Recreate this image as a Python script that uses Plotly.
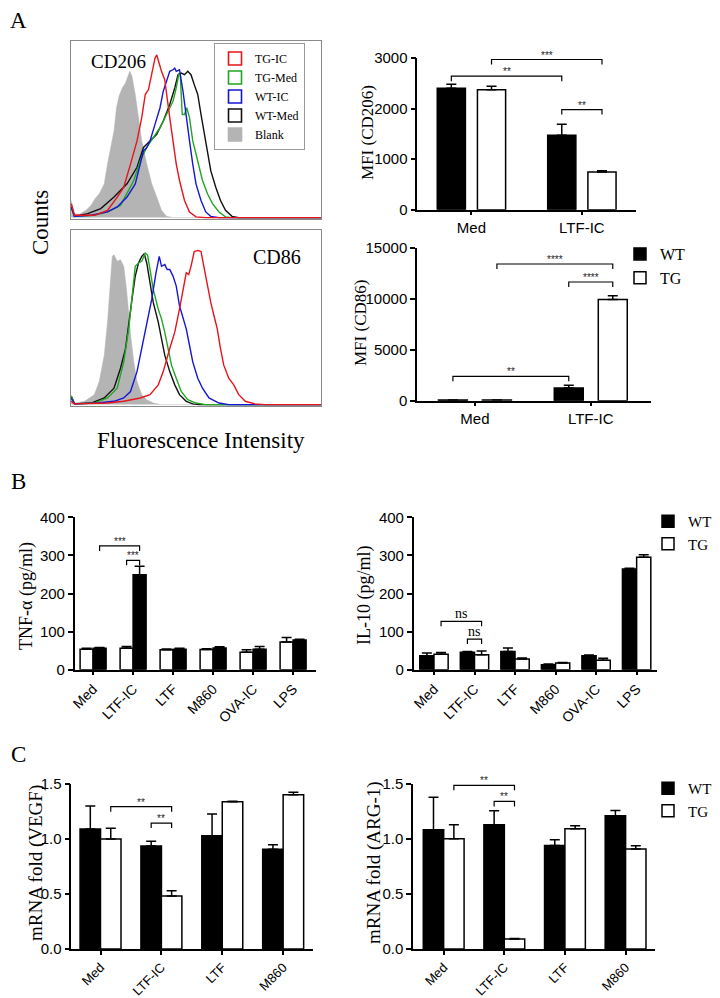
import plotly.graph_objects as go

W, H = 720, 998
SERIF = "Liberation Serif"
SANS = "Liberation Sans"

# ---------------- Flow histograms (x: relative fluorescence 0-100, y: % of max counts) -------------
cd206_blank_x = [0.1, 1.4, 3.4, 6.0, 8.0, 9.6, 11.3, 13.3, 14.6, 15.9, 17.2, 18.2, 19.2, 20.5, 21.8, 23.5, 24.4, 25.7, 27.0, 28.3, 30.3, 32.3, 34.3, 36.2, 38.2, 40.8, 100]
cd206_blank_y = [9.7, 2.2, 1.9, 4.1, 6.9, 10.7, 13.5, 19.1, 30.3, 39.7, 49.1, 62.2, 68.7, 73.4, 76.2, 82.8, 80.0, 69.7, 56.6, 43.4, 30.3, 19.1, 11.6, 4.1, 0.7, 0, 0]
cd206_tgic_x = [0.1, 1.4, 9.3, 14.6, 18.5, 21.1, 23.8, 26.4, 28.3, 29.7, 31.0, 32.3, 33.6, 34.3, 35.3, 36.2, 37.5, 38.5, 39.5, 40.8, 42.1, 43.4, 45.4, 47.4, 50.0, 53.9, 100]
cd206_tgic_y = [7.9, 1.3, 1.3, 4.1, 11.6, 17.2, 30.3, 43.4, 56.6, 69.7, 72.5, 80.9, 90.3, 92.1, 86.5, 82.8, 78.1, 65.9, 56.6, 43.4, 30.3, 21.0, 9.7, 3.2, 0.4, 0, 0]
cd206_wtic_x = [0.1, 1.4, 8.0, 14.6, 18.5, 22.4, 25.7, 27.7, 29.0, 30.3, 31.6, 33.6, 35.6, 36.9, 38.2, 39.5, 40.8, 41.5, 42.1, 43.4, 44.8, 46.1, 47.4, 48.7, 50.0, 52.0, 53.9, 55.9, 59.2, 100]
cd206_wtic_y = [6.0, 0.7, 1.3, 3.2, 6.0, 11.6, 19.1, 30.3, 37.8, 39.7, 43.4, 52.8, 62.2, 71.5, 77.2, 82.8, 83.7, 84.6, 82.8, 83.7, 71.5, 56.6, 43.4, 30.3, 19.1, 9.7, 3.2, 0.7, 0, 0]
cd206_tgmed_x = [0.1, 1.4, 9.3, 14.6, 19.8, 22.4, 25.1, 27.7, 30.3, 32.9, 35.6, 38.2, 40.8, 42.1, 43.2, 43.7, 44.5, 45.4, 46.3, 47.4, 48.7, 50.0, 51.3, 52.6, 54.6, 56.6, 59.2, 61.8, 64.4, 100]
cd206_tgmed_y = [6.0, 0.7, 1.3, 3.2, 6.9, 13.5, 21.0, 32.2, 39.7, 45.3, 50.9, 58.4, 65.9, 73.4, 81.8, 80.9, 58.4, 58.4, 62.2, 56.6, 43.4, 36.0, 28.5, 21.0, 13.5, 7.9, 3.2, 0.4, 0, 0]
cd206_wtmed_x = [0.1, 1.4, 6.7, 11.9, 17.2, 22.4, 26.4, 29.0, 31.6, 34.3, 36.9, 39.5, 41.5, 42.8, 44.1, 45.4, 46.7, 48.0, 49.3, 50.7, 52.0, 53.3, 54.6, 55.9, 57.9, 59.8, 61.8, 64.4, 67.1, 100]
cd206_wtmed_y = [6.0, 0.7, 2.2, 5.1, 11.6, 19.1, 28.5, 39.7, 43.4, 47.2, 54.7, 64.0, 73.4, 80.9, 81.8, 80.9, 82.8, 80.9, 75.3, 69.7, 58.4, 47.2, 36.0, 26.6, 17.2, 9.7, 4.1, 0.7, 0, 0]

cd86_blank_x = [0.1, 1.4, 5.4, 9.3, 11.3, 13.3, 14.6, 15.6, 16.5, 17.2, 18.5, 19.8, 21.1, 22.2, 23.1, 24.0, 25.1, 26.4, 28.3, 30.3, 32.9, 35.6, 100]
cd86_blank_y = [5.7, 0.9, 1.9, 5.7, 13.2, 28.3, 47.2, 66.0, 84.9, 85.8, 82.1, 83.0, 79.2, 66.0, 50.9, 37.7, 24.5, 13.2, 5.7, 2.8, 0.9, 0, 0]
cd86_wtmed_x = [0.1, 1.4, 8.0, 13.3, 17.2, 19.8, 21.8, 23.1, 24.4, 25.7, 27.0, 28.3, 29.3, 30.3, 31.6, 32.9, 34.9, 36.2, 37.5, 39.5, 41.5, 43.4, 46.1, 48.7, 51.3, 100]
cd86_wtmed_y = [4.7, 0.4, 0.9, 3.8, 9.4, 20.8, 32.1, 47.2, 60.4, 73.6, 81.1, 84.9, 86.4, 81.1, 69.8, 58.5, 47.2, 37.7, 28.3, 18.9, 11.3, 5.7, 1.9, 0.4, 0, 0]
cd86_tgmed_x = [0.1, 1.4, 9.3, 14.6, 18.5, 21.1, 23.1, 24.4, 25.7, 27.0, 28.3, 29.7, 30.6, 31.6, 32.9, 34.9, 36.2, 37.5, 38.8, 40.2, 42.1, 44.1, 46.7, 50.0, 53.9, 100]
cd86_tgmed_y = [4.7, 0.4, 0.9, 3.8, 9.4, 24.5, 43.4, 60.4, 79.2, 81.1, 82.1, 86.8, 85.8, 77.4, 66.0, 54.7, 49.1, 41.5, 32.1, 22.6, 15.1, 7.5, 2.8, 0.9, 0, 0]
cd86_wtic_x = [0.1, 1.4, 10.6, 17.2, 21.1, 23.8, 26.4, 28.3, 30.3, 32.3, 34.0, 35.3, 36.2, 37.5, 38.5, 39.5, 40.8, 42.1, 43.4, 44.8, 46.1, 47.4, 48.7, 50.7, 52.6, 55.2, 59.2, 63.1, 100]
cd86_wtic_y = [3.8, 0.4, 0.9, 1.9, 3.8, 7.5, 18.9, 32.1, 47.2, 60.4, 75.5, 84.9, 79.2, 80.2, 77.4, 77.4, 73.6, 67.9, 56.6, 49.1, 43.4, 34.0, 24.5, 15.1, 9.4, 3.8, 0.9, 0, 0]
cd86_tgic_x = [0.1, 1.4, 14.6, 21.1, 27.7, 31.6, 34.9, 36.9, 39.5, 41.5, 43.4, 44.8, 46.1, 47.1, 48.0, 49.3, 50.7, 52.0, 53.3, 54.6, 55.9, 57.2, 58.5, 59.8, 61.1, 63.1, 65.1, 67.1, 69.7, 73.6, 77.6, 100]
cd86_tgic_y = [1.9, 0.4, 0.9, 1.9, 3.8, 5.7, 11.3, 18.9, 32.1, 41.5, 54.7, 66.0, 75.5, 74.5, 79.2, 87.7, 88.3, 87.7, 77.4, 67.9, 58.5, 50.9, 43.4, 32.1, 22.6, 15.1, 11.3, 5.7, 1.9, 0.4, 0, 0]

hist_legend_names = ["TG-IC", "TG-Med", "WT-IC", "WT-Med", "Blank"]

# ---------------- Bar data ----------------
mfi_groups = ["Med", "LTF-IC"]
cd206_wt = [2400, 1470]
cd206_wt_err = [80, 220]
cd206_tg = [2370, 745]
cd206_tg_err = [70, 25]
cd86_wt = [60, 1250]
cd86_wt_err = [20, 260]
cd86_tg = [60, 9950]
cd86_tg_err = [20, 370]

cyto_groups = ["Med", "LTF-IC", "LTF", "M860", "OVA-IC", "LPS"]
tnf_wt = [56, 249.5, 54, 57, 54, 78]
tnf_wt_err = [2, 22, 2, 3, 7, 2]
tnf_tg = [54, 56, 52.5, 53, 45.5, 72.6]
tnf_tg_err = [2, 5, 2, 2, 7, 12]
il10_wt = [36.8, 45.5, 48, 13, 36.8, 264]
il10_wt_err = [7, 2.5, 9, 2, 1.5, 2]
il10_tg = [40.3, 39.4, 28, 17.5, 24.5, 295]
il10_tg_err = [5, 10, 2.6, 1.5, 5.5, 7]

mrna_groups = ["Med", "LTF-IC", "LTF", "M860"]
vegf_wt = [1.09, 0.936, 1.03, 0.906]
vegf_wt_err = [0.21, 0.043, 0.197, 0.042]
vegf_tg = [1.0, 0.482, 1.339, 1.403]
vegf_tg_err = [0.097, 0.048, 0.005, 0.021]
arg_wt = [1.085, 1.13, 0.942, 1.212]
arg_wt_err = [0.294, 0.127, 0.052, 0.048]
arg_tg = [1.003, 0.091, 1.094, 0.909]
arg_tg_err = [0.127, 0.005, 0.027, 0.03]

# significance brackets: (group_a, series_a, group_b, series_b, bracket_value, label)
cd206_sig = [(0, "wt", 1, "wt", 2640, "**"), (0, "tg", 1, "tg", 2970, "***"), (1, "wt", 1, "tg", 1980, "**")]
cd86_sig = [(0, "wt", 1, "wt", 2390, "**"), (0, "tg", 1, "tg", 13430, "****"), (1, "wt", 1, "tg", 11660, "****")]
tnf_sig = [(0, "wt", 1, "wt", 325, "***"), (1, "tg", 1, "wt", 287, "***")]
il10_sig = [(0, "tg", 1, "tg", 127, "ns"), (1, "wt", 1, "tg", 80.5, "ns")]
vegf_sig = [(0, "tg", 1, "tg", 1.294, "**"), (1, "wt", 1, "tg", 1.145, "**")]
arg_sig = [(0, "tg", 1, "tg", 1.488, "**"), (1, "wt", 1, "tg", 1.342, "**")]

# ---------------- helpers ----------------
fig = go.Figure()


def pxx(v):
    return v / W


def pxy(v):
    return 1 - v / H


def xdom(a, b):
    return [a / W, b / W]


def ydom(top, bottom):
    return [1 - bottom / H, 1 - top / H]


HIST_COLORS = {"TG-IC": "#e8141b", "TG-Med": "#22a622", "WT-IC": "#1616d6",
               "WT-Med": "#111111", "Blank": "#b4b4b4"}


def add_hist(xa, ya, curves):
    for name, xs, ys in curves:
        c = HIST_COLORS[name]
        if name == "Blank":
            fig.add_trace(go.Scatter(x=xs, y=ys, mode="lines", fill="tozeroy", fillcolor=c,
                                     line=dict(color=c, width=0.5), xaxis=xa, yaxis=ya,
                                     showlegend=False, hoverinfo="skip"))
        else:
            fig.add_trace(go.Scatter(x=xs, y=ys, mode="lines", line=dict(color=c, width=1.4),
                                     xaxis=xa, yaxis=ya, showlegend=False, hoverinfo="skip"))


add_hist("x", "y", [("Blank", cd206_blank_x, cd206_blank_y),
                    ("WT-Med", cd206_wtmed_x, cd206_wtmed_y),
                    ("TG-Med", cd206_tgmed_x, cd206_tgmed_y),
                    ("WT-IC", cd206_wtic_x, cd206_wtic_y),
                    ("TG-IC", cd206_tgic_x, cd206_tgic_y)])
add_hist("x2", "y2", [("Blank", cd86_blank_x, cd86_blank_y),
                      ("WT-Med", cd86_wtmed_x, cd86_wtmed_y),
                      ("TG-Med", cd86_tgmed_x, cd86_tgmed_y),
                      ("WT-IC", cd86_wtic_x, cd86_wtic_y),
                      ("TG-IC", cd86_tgic_x, cd86_tgic_y)])

for name in hist_legend_names:
    c = HIST_COLORS[name]
    sym = "square" if name == "Blank" else "square-open"
    fig.add_trace(go.Scatter(x=[None], y=[None], mode="markers", name=name,
                             marker=dict(symbol=sym, size=13, color=c, line=dict(color=c, width=1.6)),
                             xaxis="x", yaxis="y", legend="legend", hoverinfo="skip"))


def add_bars(xa, ya, groups, series, legend_name):
    for name, vals, errs, fill, center, width in series:
        fig.add_trace(go.Bar(
            x=[i + center for i in range(len(groups))], y=vals, width=width, name=name,
            marker=dict(color=fill, line=dict(color="black", width=1.5)),
            error_y=dict(type="data", symmetric=False, array=errs, arrayminus=[0] * len(errs),
                         color="black", thickness=1.5, width=5),
            xaxis=xa, yaxis=ya, showlegend=legend_name is not None,
            legend=legend_name if legend_name else "legend", hoverinfo="skip"))


def add_brackets(xa, ya, sigs, centers, drop, font, yshift):
    for ga, sa, gb, sb, yv, label in sigs:
        x1 = ga + centers[sa]
        x2 = gb + centers[sb]
        fig.add_shape(type="path", path=f"M {x1},{yv - drop} L {x1},{yv} L {x2},{yv} L {x2},{yv - drop}",
                      xref=xa, yref=ya, line=dict(color="black", width=1.2))
        fig.add_annotation(x=(x1 + x2) / 2, y=yv, xref=xa, yref=ya, text=label, showarrow=False,
                           yanchor="bottom", font=font, yshift=yshift)


STAR = dict(family=SANS, size=10, color="#222")
NS = dict(family=SERIF, size=14, color="black")

# panel geometry (pixels)
P = {
    "cd206": dict(x=(409.3, 628), y=(50, 201.7), xr=[-0.49, 1.49], yr=[0, 3000]),
    "cd86": dict(x=(409, 643), y=(240, 392.7), xr=[-0.5, 1.52], yr=[0, 15000]),
    "tnf": dict(x=(66.7, 308.3), y=(509.3, 661.7), xr=[-0.46, 5.58], yr=[0, 400]),
    "il10": dict(x=(405.7, 649.3), y=(509.3, 661.7), xr=[-0.5, 5.51], yr=[0, 400]),
    "vegf": dict(x=(63.3, 305), y=(776, 941), xr=[-0.48, 3.49], yr=[0, 1.5]),
    "arg": dict(x=(405, 647.3), y=(776, 941), xr=[-0.506, 3.49], yr=[0, 1.5]),
}


def drop_for(key, pixels=5):
    g = P[key]
    return pixels * (g["yr"][1] - g["yr"][0]) / (g["y"][1] - g["y"][0])


c_cd206 = {"wt": -0.182, "tg": 0.182}
add_bars("x3", "y3", mfi_groups, [("WT", cd206_wt, cd206_wt_err, "black", c_cd206["wt"], 0.255),
                                  ("TG", cd206_tg, cd206_tg_err, "white", c_cd206["tg"], 0.255)], None)
add_brackets("x3", "y3", cd206_sig, c_cd206, drop_for("cd206"), STAR, -3)

c_cd86 = {"wt": -0.19, "tg": 0.19}
add_bars("x4", "y4", mfi_groups, [("WT", cd86_wt, cd86_wt_err, "black", c_cd86["wt"], 0.25),
                                  ("TG", cd86_tg, cd86_tg_err, "white", c_cd86["tg"], 0.25)], "legend2")
add_brackets("x4", "y4", cd86_sig, c_cd86, drop_for("cd86"), STAR, -3)

c_tnf = {"tg": -0.1625, "wt": 0.1625}
add_bars("x5", "y5", cyto_groups, [("TG", tnf_tg, tnf_tg_err, "white", c_tnf["tg"], 0.325),
                                   ("WT", tnf_wt, tnf_wt_err, "black", c_tnf["wt"], 0.325)], None)
add_brackets("x5", "y5", tnf_sig, c_tnf, drop_for("tnf"), STAR, -3)

c_il10 = {"wt": -0.175, "tg": 0.175}
add_bars("x6", "y6", cyto_groups, [("WT", il10_wt, il10_wt_err, "black", c_il10["wt"], 0.35),
                                   ("TG", il10_tg, il10_tg_err, "white", c_il10["tg"], 0.35)], "legend3")
add_brackets("x6", "y6", il10_sig, c_il10, drop_for("il10"), NS, -2)

c_mrna = {"wt": -0.168, "tg": 0.168}
add_bars("x7", "y7", mrna_groups, [("WT", vegf_wt, vegf_wt_err, "black", c_mrna["wt"], 0.337),
                                   ("TG", vegf_tg, vegf_tg_err, "white", c_mrna["tg"], 0.337)], None)
add_brackets("x7", "y7", vegf_sig, c_mrna, drop_for("vegf"), STAR, -3)
add_bars("x8", "y8", mrna_groups, [("WT", arg_wt, arg_wt_err, "black", c_mrna["wt"], 0.337),
                                   ("TG", arg_tg, arg_tg_err, "white", c_mrna["tg"], 0.337)], "legend4")
add_brackets("x8", "y8", arg_sig, c_mrna, drop_for("arg"), STAR, -3)

# ---------------- layout ----------------
layout = dict(width=W, height=H, margin=dict(l=0, r=0, t=0, b=0, autoexpand=False),
              paper_bgcolor="white", plot_bgcolor="white", barmode="overlay", showlegend=True)

hist_ax = dict(range=[0, 100], showline=True, mirror=True, linecolor="#8a8a8a", linewidth=1,
               showticklabels=False, ticks="", showgrid=False, zeroline=False, fixedrange=True)
layout["xaxis"] = dict(hist_ax, domain=xdom(63, 313), anchor="y")
layout["yaxis"] = dict(hist_ax, domain=ydom(33, 211), anchor="x", range=[-0.8, 100])
layout["xaxis2"] = dict(hist_ax, domain=xdom(63, 313), anchor="y2")
layout["yaxis2"] = dict(hist_ax, domain=ydom(222, 398), anchor="x2", range=[-0.8, 100])

base = dict(showline=True, linecolor="black", linewidth=1.5, ticks="outside", ticklen=5, tickwidth=1.5,
            tickcolor="black", showgrid=False, zeroline=False, fixedrange=True,
            tickfont=dict(family=SANS, size=15, color="black"))

panels = [("cd206", 3, mfi_groups, 0, [0, 1000, 2000, 3000], "d", 15),
          ("cd86", 4, mfi_groups, 0, [0, 5000, 10000, 15000], "d", 15),
          ("tnf", 5, cyto_groups, -45, [0, 100, 200, 300, 400], "d", 14),
          ("il10", 6, cyto_groups, -45, [0, 100, 200, 300, 400], "d", 14),
          ("vegf", 7, mrna_groups, -45, [0, 0.5, 1.0, 1.5], ".1f", 13),
          ("arg", 8, mrna_groups, -45, [0, 0.5, 1.0, 1.5], ".1f", 13)]
for key, n, groups, angle, yt, fmt, xfs in panels:
    g = P[key]
    layout[f"xaxis{n}"] = dict(base, domain=xdom(*g["x"]), range=g["xr"], anchor=f"y{n}",
                               tickmode="array", tickvals=list(range(len(groups))), ticktext=groups,
                               tickangle=angle, ticklen=4,
                               tickfont=dict(family=SANS, size=xfs, color="black"))
    layout[f"yaxis{n}"] = dict(base, domain=ydom(*g["y"]), range=g["yr"], anchor=f"x{n}",
                               tickmode="array", tickvals=yt, tickformat=fmt)

layout["legend"] = dict(x=pxx(206), y=pxy(35), xanchor="left", yanchor="top", bgcolor="white",
                        bordercolor="#9a9a9a", borderwidth=1, font=dict(family=SERIF, size=12, color="black"),
                        tracegroupgap=0, traceorder="normal")
wtg_leg = dict(xanchor="left", yanchor="top", bgcolor="rgba(0,0,0,0)", borderwidth=0,
               font=dict(family=SERIF, size=16, color="black"), tracegroupgap=0, traceorder="normal")
layout["legend2"] = dict(wtg_leg, x=pxx(612), y=pxy(229))
layout["legend3"] = dict(wtg_leg, x=pxx(640), y=pxy(497), font=dict(family=SERIF, size=15, color="black"))
layout["legend4"] = dict(wtg_leg, x=pxx(640), y=pxy(764), font=dict(family=SERIF, size=15, color="black"))

fig.update_layout(**layout)

# ---------------- text annotations ----------------
def ann(text, x, y, size, family=SERIF, angle=0, xanchor="center", yanchor="middle"):
    fig.add_annotation(text=text, x=pxx(x), y=pxy(y), xref="paper", yref="paper", showarrow=False,
                       textangle=angle, xanchor=xanchor, yanchor=yanchor,
                       font=dict(family=family, size=size, color="black"))


ann("A", 10, 13, 23)
ann("B", 10, 473, 23)
ann("C", 10, 746, 23)
ann("CD206", 110, 53, 19)
ann("CD86", 269, 249, 20)
ann("Counts", 33, 215, 23, angle=-90)
ann("Fluorescence Intensity", 193, 432, 23)
ann("MFI (CD206)", 360, 125, 17, angle=-90)
ann("MFI (CD86)", 352, 315, 17, angle=-90)
ann("TNF-α (pg/ml)", 18, 588, 18, angle=-90)
ann("IL-10 (pg/ml)", 356, 588, 18, angle=-90)
ann("mRNA fold (VEGF)", 28, 855, 19, angle=-90)
ann("mRNA fold (ARG-1)", 366, 855, 19, angle=-90)

fig.write_html("out.html")
